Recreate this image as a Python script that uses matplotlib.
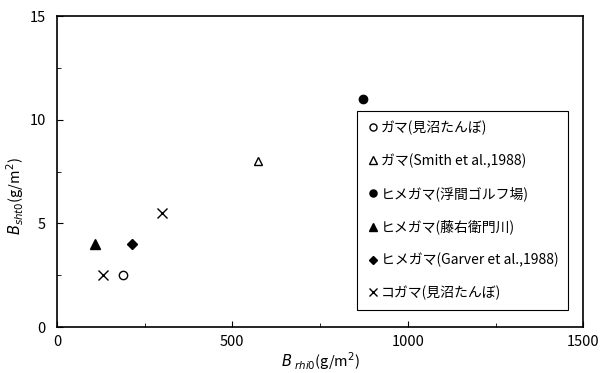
import matplotlib
matplotlib.use('Agg')
from matplotlib import pyplot as plt
from matplotlib.ticker import MultipleLocator

plt.rcParams['font.family'] = ['Noto Sans CJK JP', 'DejaVu Sans']
plt.rcParams['mathtext.fontset'] = 'custom'
plt.rcParams['mathtext.it'] = 'DejaVu Sans:italic'
plt.rcParams['mathtext.rm'] = 'DejaVu Sans'

# data: (B_rhi0, B_sht0)
labels = ['ガマ(見沼たんぼ)', 'ガマ(Smith et al.,1988)', 'ヒメガマ(浮間ゴルフ場)',
          'ヒメガマ(藤右衛門川)', 'ヒメガマ(Garver et al.,1988)', 'コガマ(見沼たんぼ)']
x_vals = [[188], [573], [873], [108], [214], [131, 299]]
y_vals = [[2.5], [8.0], [11.0], [4.0], [4.0], [2.5, 5.5]]

# marker styles for each series
markers = ['o', '^', 'o', '^', 'D', 'x']
fills = ['none', 'none', 'black', 'black', 'black', 'black']
sizes = [6, 6, 6, 7, 5, 7]

fig = plt.figure(figsize=(6.12, 3.73), dpi=100)
ax = fig.add_axes([0.093, 0.123, 0.860, 0.834])

for i in range(len(labels)):
    ax.plot(x_vals[i], y_vals[i], linestyle='none', marker=markers[i],
            markerfacecolor=fills[i], markeredgecolor='black', color='black',
            markersize=sizes[i], markeredgewidth=1.0, label=labels[i])

ax.set_xlim(0, 1500)
ax.set_ylim(0, 15)
ax.xaxis.set_major_locator(MultipleLocator(500))
ax.yaxis.set_major_locator(MultipleLocator(5))
ax.xaxis.set_minor_locator(MultipleLocator(250))
ax.yaxis.set_minor_locator(MultipleLocator(2.5))
ax.tick_params(which='both', direction='in', labelsize=10.5)
ax.tick_params(which='major', length=4)
ax.tick_params(which='minor', length=3)
ax.tick_params(axis='x', pad=6)
ax.tick_params(axis='y', pad=8)
for s in ax.spines.values():
    s.set_linewidth(1.2)

ax.set_xlabel(r'$B_{\ rhi0}$(g/m$^2$)', fontsize=10.5)
ax.set_ylabel(r'$B_{sht0}$(g/m$^2$)', fontsize=10.5)
ax.xaxis.set_label_coords(0.50, -0.075)
ax.yaxis.set_label_coords(-0.058, 0.42)

leg = ax.legend(loc='lower left', bbox_to_anchor=(0.57, 0.055), borderaxespad=0,
                fontsize=10, labelspacing=1.32, handletextpad=0.1, handlelength=0.9,
                borderpad=0.7, fancybox=False, framealpha=1, markerscale=0.85)
leg.get_frame().set_edgecolor('black')
leg.get_frame().set_linewidth(0.8)

fig.savefig('out.png', dpi=100)
